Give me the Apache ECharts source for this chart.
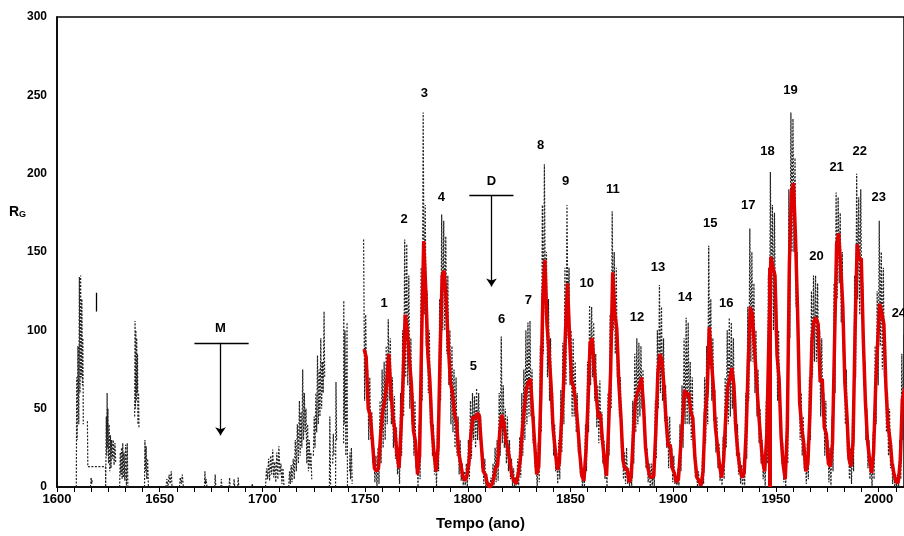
<!DOCTYPE html>
<html>
<head>
<meta charset="utf-8">
<script src="https://cdn.jsdelivr.net/npm/echarts@6/dist/echarts.min.js"></script>
<style>
  html, body { margin: 0; padding: 0; background: #fff; }
  #chart { width: 904px; height: 536px; }
</style>
</head>
<body>
<div id="chart"></div>
<script>
// first year of the yearly arrays
var startYear = 1749;

// smoothed sunspot number (red), one value per year 1749..2013
var redSmooth = [
  88,
  83, 50, 46, 30, 12, 10, 12, 33, 48, 55,
  66, 85, 62, 45, 36, 21, 12, 38, 70, 110,
  100, 82, 66, 36, 29, 8, 20, 95, 157, 126,
  85, 68, 38, 22, 10, 25, 85, 135, 138, 118,
  90, 67, 60, 47, 41, 22, 15, 7, 4, 7,
  15, 34, 45, 43, 47, 46, 28, 10, 8, 2,
  0, 1, 5, 12, 14, 35, 46, 41, 30, 24,
  16, 7, 4, 2, 8, 17, 36, 50, 63, 67,
  69, 48, 28, 8, 13, 57, 121, 145, 104, 86,
  65, 37, 24, 11, 15, 40, 62, 98, 130, 96,
  67, 64, 54, 39, 21, 7, 4, 23, 55, 92,
  95, 77, 59, 44, 47, 30, 16, 7, 38, 74,
  137, 111, 101, 66, 45, 17, 11, 12, 3, 6,
  32, 54, 60, 64, 70, 52, 25, 13, 7, 6,
  7, 36, 73, 85, 80, 64, 42, 26, 27, 12,
  9, 3, 5, 24, 42, 62, 58, 60, 48, 44,
  19, 6, 4, 1, 10, 47, 60, 102, 82, 64,
  38, 26, 14, 6, 17, 44, 64, 69, 76, 65,
  36, 21, 11, 6, 9, 36, 80, 115, 110, 89,
  68, 48, 31, 16, 10, 33, 93, 147, 140, 135,
  84, 69, 32, 14, 5, 38, 142, 188, 194, 159,
  112, 54, 38, 28, 10, 15, 47, 94, 106, 108,
  104, 67, 69, 38, 34, 15, 13, 28, 93, 155,
  162, 140, 116, 67, 46, 18, 13, 29, 100, 155,
  145, 146, 94, 55, 30, 18, 9, 22, 64, 93,
  117, 111, 104, 64, 40, 30, 15, 8, 3, 3,
  17, 56, 62, 65
];

// monthly values (gray): highest and lowest month of each year 1749..2013
var grayHigh = [
  158,
  110, 75, 70, 48, 25, 20, 25, 55, 75, 80,
  90, 107, 95, 70, 58, 38, 25, 60, 100, 158,
  155, 135, 95, 60, 55, 18, 40, 140, 239, 180,
  125, 100, 60, 40, 20, 45, 120, 174, 170, 160,
  135, 100, 90, 75, 70, 45, 30, 15, 10, 15,
  30, 55, 60, 58, 63, 60, 45, 22, 18, 8,
  3, 6, 15, 25, 30, 60, 96, 65, 50, 45,
  30, 18, 12, 6, 18, 32, 60, 75, 100, 105,
  106, 75, 45, 18, 28, 90, 180, 206, 150, 120,
  95, 60, 40, 22, 30, 62, 92, 140, 180, 140,
  100, 95, 80, 60, 35, 15, 12, 40, 80, 116,
  115, 105, 85, 65, 68, 48, 30, 18, 60, 110,
  176, 150, 140, 95, 70, 32, 22, 25, 10, 15,
  55, 85, 95, 92, 90, 75, 45, 25, 15, 15,
  15, 55, 100, 129, 115, 95, 65, 45, 45, 25,
  20, 8, 12, 40, 65, 95, 108, 105, 80, 70,
  35, 14, 10, 5, 22, 70, 90, 154, 120, 95,
  62, 45, 28, 14, 32, 70, 100, 108, 105, 95,
  60, 40, 22, 14, 18, 60, 115, 165, 150, 130,
  100, 75, 50, 30, 20, 55, 135, 201, 180, 175,
  120, 100, 50, 28, 12, 60, 190, 239, 235, 210,
  150, 85, 60, 45, 20, 28, 70, 125, 135, 135,
  130, 100, 95, 60, 55, 30, 25, 45, 130, 188,
  185, 175, 150, 100, 75, 32, 25, 45, 135, 200,
  185, 190, 130, 80, 50, 30, 18, 35, 90, 125,
  170, 150, 140, 95, 60, 50, 28, 15, 8, 8,
  30, 85, 97, 95
];
var grayLow = [
  55,
  60, 30, 30, 15, 3, 0, 2, 15, 25, 30,
  40, 55, 40, 25, 18, 8, 2, 20, 45, 70,
  65, 50, 40, 20, 12, 0, 5, 55, 110, 90,
  60, 40, 20, 8, 0, 10, 55, 100, 100, 85,
  65, 40, 35, 25, 20, 8, 4, 0, 0, 0,
  5, 18, 30, 25, 30, 30, 12, 2, 0, 0,
  0, 0, 0, 3, 4, 20, 28, 25, 15, 10,
  5, 0, 0, 0, 0, 6, 20, 30, 40, 45,
  45, 28, 12, 0, 3, 35, 85, 110, 70, 55,
  40, 20, 10, 2, 5, 22, 40, 65, 95, 65,
  45, 45, 35, 22, 8, 0, 0, 10, 35, 65,
  70, 55, 38, 28, 30, 15, 5, 0, 20, 50,
  100, 85, 70, 45, 25, 5, 2, 2, 0, 0,
  15, 35, 40, 45, 50, 35, 12, 3, 0, 0,
  0, 18, 50, 60, 55, 42, 25, 12, 12, 3,
  2, 0, 0, 10, 25, 40, 40, 40, 30, 25,
  6, 0, 0, 0, 2, 28, 40, 75, 55, 42,
  22, 12, 4, 0, 5, 25, 40, 45, 50, 40,
  20, 8, 2, 0, 0, 18, 55, 80, 80, 60,
  45, 28, 15, 5, 0, 15, 60, 110, 100, 95,
  55, 45, 15, 3, 0, 15, 95, 150, 150, 115,
  80, 30, 20, 12, 2, 5, 30, 70, 80, 80,
  75, 45, 45, 20, 18, 3, 0, 10, 60, 120,
  130, 105, 85, 40, 22, 5, 2, 10, 70, 120,
  110, 110, 65, 30, 12, 5, 0, 5, 40, 65,
  90, 75, 70, 35, 20, 12, 2, 0, 0, 0,
  5, 30, 40, 40
];

// sparse early observations 1609..1745 (null = gap)
var earlyPoints = [
  [1609.4, 0], [1609.6, 70], [1609.8, 30], [1610.2, 90], [1610.6, 40], [1610.9, 134],
  [1611.2, 60], [1611.5, 135], [1611.8, 70], [1612.1, 120], [1612.4, 65], [1612.6, 95], [1612.8, 40], null,
  [1614.8, 42], [1615.0, 13], [1623.6, 13], [1623.7, 0], [1624.0, 45], [1624.2, 20], [1624.4, 60],
  [1624.6, 25], [1624.8, 50], [1625.1, 15], [1625.4, 40], [1625.7, 10], [1626.0, 33], [1626.3, 12],
  [1626.6, 30], [1627.0, 18], [1627.4, 30], [1627.8, 14], [1628.2, 28], [1628.6, 15], null,
  [1616.3, 0], [1616.6, 6], [1616.9, 2], [1617.2, 5], null,
  [1630.5, 0], [1630.8, 22], [1631.1, 8], [1631.4, 25], [1631.7, 5], [1632.0, 28], [1632.3, 6],
  [1632.6, 22], [1633.0, 4], [1633.4, 27], [1633.8, 0], [1634.2, 28], [1634.5, 0], null,
  [1637.8, 45], [1638.0, 106], [1638.2, 50], [1638.4, 100], [1638.6, 55], [1638.8, 95], [1639.0, 60],
  [1639.2, 85], [1639.4, 40], [1639.7, 60], [1639.9, 38], null,
  [1642.6, 0], [1642.8, 30], [1643.1, 10], [1643.4, 26], [1643.7, 5], [1644.1, 18], [1644.5, 0], null,
  [1653.0, 0], [1653.5, 5], [1654.0, 0], [1654.6, 8], [1655.1, 2], [1655.6, 10], [1656.0, 0], null,
  [1659.6, 0], [1660.0, 6], [1660.5, 2], [1661.0, 8], [1661.5, 0], null,
  [1671.8, 0], [1672.0, 10], [1672.3, 2], [1672.6, 5], [1673.0, 0], null,
  [1676.8, 0], [1677.0, 8], [1677.3, 0], null,
  [1679.8, 0], [1680.0, 5], [1680.3, 0], null,
  [1683.8, 0], [1684.0, 6], [1684.3, 0], [1686.0, 0], [1686.2, 5], [1686.5, 0], [1688.0, 0], [1688.2, 6], [1688.5, 0], null,
  [1694.8, 0], [1695.0, 2], [1695.3, 0], null,
  [1701.5, 0], [1702.0, 12], [1702.5, 5], [1703.0, 18], [1703.5, 4], [1704.0, 20], [1704.5, 8], [1705.0, 24],
  [1705.5, 6], [1706.0, 16], [1706.5, 3], [1707.0, 22], [1707.5, 5], [1708.0, 26], [1708.5, 8], [1709.0, 15],
  [1709.5, 2], [1710.0, 12], [1710.5, 0], null,
  [1712.8, 0], [1713.2, 10], [1713.6, 2], [1714.0, 14], [1714.4, 3], [1715.0, 18], [1715.5, 5], [1716.0, 30],
  [1716.5, 10], [1717.0, 40], [1717.5, 15], [1718.0, 55], [1718.4, 20], [1718.8, 48], [1719.2, 25], [1719.6, 75],
  [1720.0, 30], [1720.4, 60], [1720.8, 35], [1721.2, 50], [1721.6, 15], [1722.0, 40], [1722.4, 10], [1722.8, 30],
  [1723.2, 12], [1723.6, 22], [1724.0, 5], null,
  [1724.8, 20], [1725.2, 45], [1725.6, 25], [1726.0, 60], [1726.4, 35], [1726.8, 84], [1727.2, 40], [1727.6, 75],
  [1728.0, 45], [1728.4, 95], [1728.8, 50], [1729.2, 80], [1729.6, 60], [1730.0, 112], [1730.3, 70], null,
  [1732.6, 0], [1732.8, 45], [1733.2, 0], null, [1734.2, 15], [1734.5, 34], [1734.8, 20], null,
  [1735.6, 0], [1735.8, 67], [1736.1, 30], null,
  [1739.5, 28], [1739.6, 119], [1739.8, 40], [1740.2, 100], [1740.6, 20], [1741.2, 105], [1741.4, 0], null,
  [1742.4, 10], [1742.6, 22], [1742.9, 5], [1743.3, 25], [1743.7, 2], null
];

// cycle numbers and where they are written
var cycleNames = ['1','2','3','4','5','6','7','8','9','10','11','12','13','14','15','16','17','18','19','20','21','22','23','24'];
var cycleYears = [1759.2, 1769.0, 1778.8, 1787.1, 1802.7, 1816.4, 1829.5, 1835.4, 1847.6, 1857.9, 1870.6, 1882.3,
                  1892.6, 1905.7, 1918.0, 1925.8, 1936.5, 1945.8, 1957.0, 1969.7, 1979.5, 1990.7, 2000.0, 2009.8];
var cycleLabelY = [117, 171, 251, 185, 77, 107, 119, 218, 195, 130, 190, 108,
                   140, 121, 168, 117, 180, 214, 253, 147, 204, 214, 185, 111];

// Maunder (M) and Dalton (D) minimum markers
var minimaNames = ['M', 'D'];
var minimaYear = [1679.6, 1811.5];
var minimaBarLeft = [1666.9, 1800.7];
var minimaBarRight = [1693.3, 1822.2];
var minimaBarY = [92, 186];
var minimaArrowEnd = [33, 128];

// red spike down to zero near 1947 and the small bar near 1619
var redDrop = [1946.9, 140];
var smallBar = [1619, 112, 124];

var chart = echarts.init(document.getElementById('chart'));
var FONT = 'Liberation Sans, Arial, sans-serif';

var grayData = [];
for (var i = 0; i < grayHigh.length; i++) {
  grayData.push([startYear + i + 0.25, grayHigh[i]]);
  grayData.push([startYear + i + 0.75, grayLow[i]]);
}
var redData = redSmooth.map(function (v, i) { return [startYear + i + 0.5, v]; });

var labelData = cycleNames.map(function (n, i) {
  return { name: n, value: [cycleYears[i], cycleLabelY[i]] };
});
minimaNames.forEach(function (n, i) {
  labelData.push({ name: n, value: [minimaYear[i], minimaBarY[i] + 9] });
});

var lines = [];
minimaNames.forEach(function (n, i) {
  lines.push([{ coord: [minimaBarLeft[i], minimaBarY[i]], symbol: 'none' },
              { coord: [minimaBarRight[i], minimaBarY[i]], symbol: 'none' }]);
  lines.push([{ coord: [minimaYear[i], minimaBarY[i]], symbol: 'none' },
              { coord: [minimaYear[i], minimaArrowEnd[i]], symbol: 'arrow' }]);
});
lines.push([{ coord: [smallBar[0], smallBar[1]], symbol: 'none' },
            { coord: [smallBar[0], smallBar[2]], symbol: 'none' }]);

var option = {
  animation: false,
  backgroundColor: '#fff',
  grid: { left: 57, top: 17, right: -2, bottom: 49, show: true, borderColor: '#000', borderWidth: 1.5 },
  xAxis: {
    type: 'value',
    min: 1600,
    max: 2012.3,
    interval: 50,
    name: 'Tempo (ano)',
    nameLocation: 'middle',
    nameGap: 29,
    nameTextStyle: { fontFamily: FONT, fontWeight: 'bold', fontSize: 15, color: '#000' },
    axisLine: { lineStyle: { color: '#000', width: 1.5 } },
    axisTick: { show: true, length: 5, lineStyle: { color: '#000' } },
    minorTick: { show: true, splitNumber: 6, length: 5, lineStyle: { color: '#000' } },
    axisLabel: {
      fontFamily: FONT, fontWeight: 'bold', fontSize: 13, color: '#000', margin: 6, showMaxLabel: false,
      formatter: function (v) { return String(v); }
    },
    splitLine: { show: false }
  },
  yAxis: {
    type: 'value',
    min: 0,
    max: 300,
    interval: 50,
    axisLine: { show: true, lineStyle: { color: '#000', width: 1.5 } },
    axisTick: { show: false },
    axisLabel: { fontFamily: FONT, fontWeight: 'bold', fontSize: 12, color: '#000', margin: 10 },
    splitLine: { show: false }
  },
  graphic: [{
    type: 'text',
    left: 9,
    top: 205,
    style: {
      text: '{r|R}{g|G}',
      rich: {
        r: { fontFamily: FONT, fontWeight: 'bold', fontSize: 14, fill: '#000' },
        g: { fontFamily: FONT, fontWeight: 'bold', fontSize: 9, fill: '#000', padding: [6, 0, 0, 0] }
      }
    }
  }],
  series: [
    {
      type: 'line',
      data: earlyPoints,
      showSymbol: false,
      connectNulls: false,
      lineStyle: { color: '#222', width: 1.2, type: [2, 1.5] },
      z: 1
    },
    {
      type: 'line',
      data: grayData,
      showSymbol: false,
      lineStyle: { color: '#222', width: 1.2, type: [2, 1.5] },
      z: 1
    },
    {
      type: 'line',
      data: redData,
      showSymbol: false,
      lineStyle: { color: '#e00000', width: 3.5 },
      markLine: {
        silent: true,
        symbol: 'none',
        label: { show: false },
        lineStyle: { color: '#e00000', width: 4, type: 'solid' },
        data: [[{ coord: [redDrop[0], 0] }, { coord: [redDrop[0], redDrop[1]] }]]
      },
      z: 2
    },
    {
      type: 'scatter',
      data: labelData,
      symbolSize: 0,
      itemStyle: { opacity: 1 },
      label: {
        show: true,
        position: 'inside',
        formatter: function (p) { return p.name; },
        fontFamily: FONT,
        fontWeight: 'bold',
        fontSize: 13,
        color: '#000',
        opacity: 1
      },
      markLine: {
        silent: true,
        symbolSize: 8,
        label: { show: false },
        lineStyle: { color: '#000', width: 1.3, type: 'solid', opacity: 1 },
        data: lines
      },
      z: 3
    }
  ]
};
chart.setOption(option);
</script>
</body>
</html>
